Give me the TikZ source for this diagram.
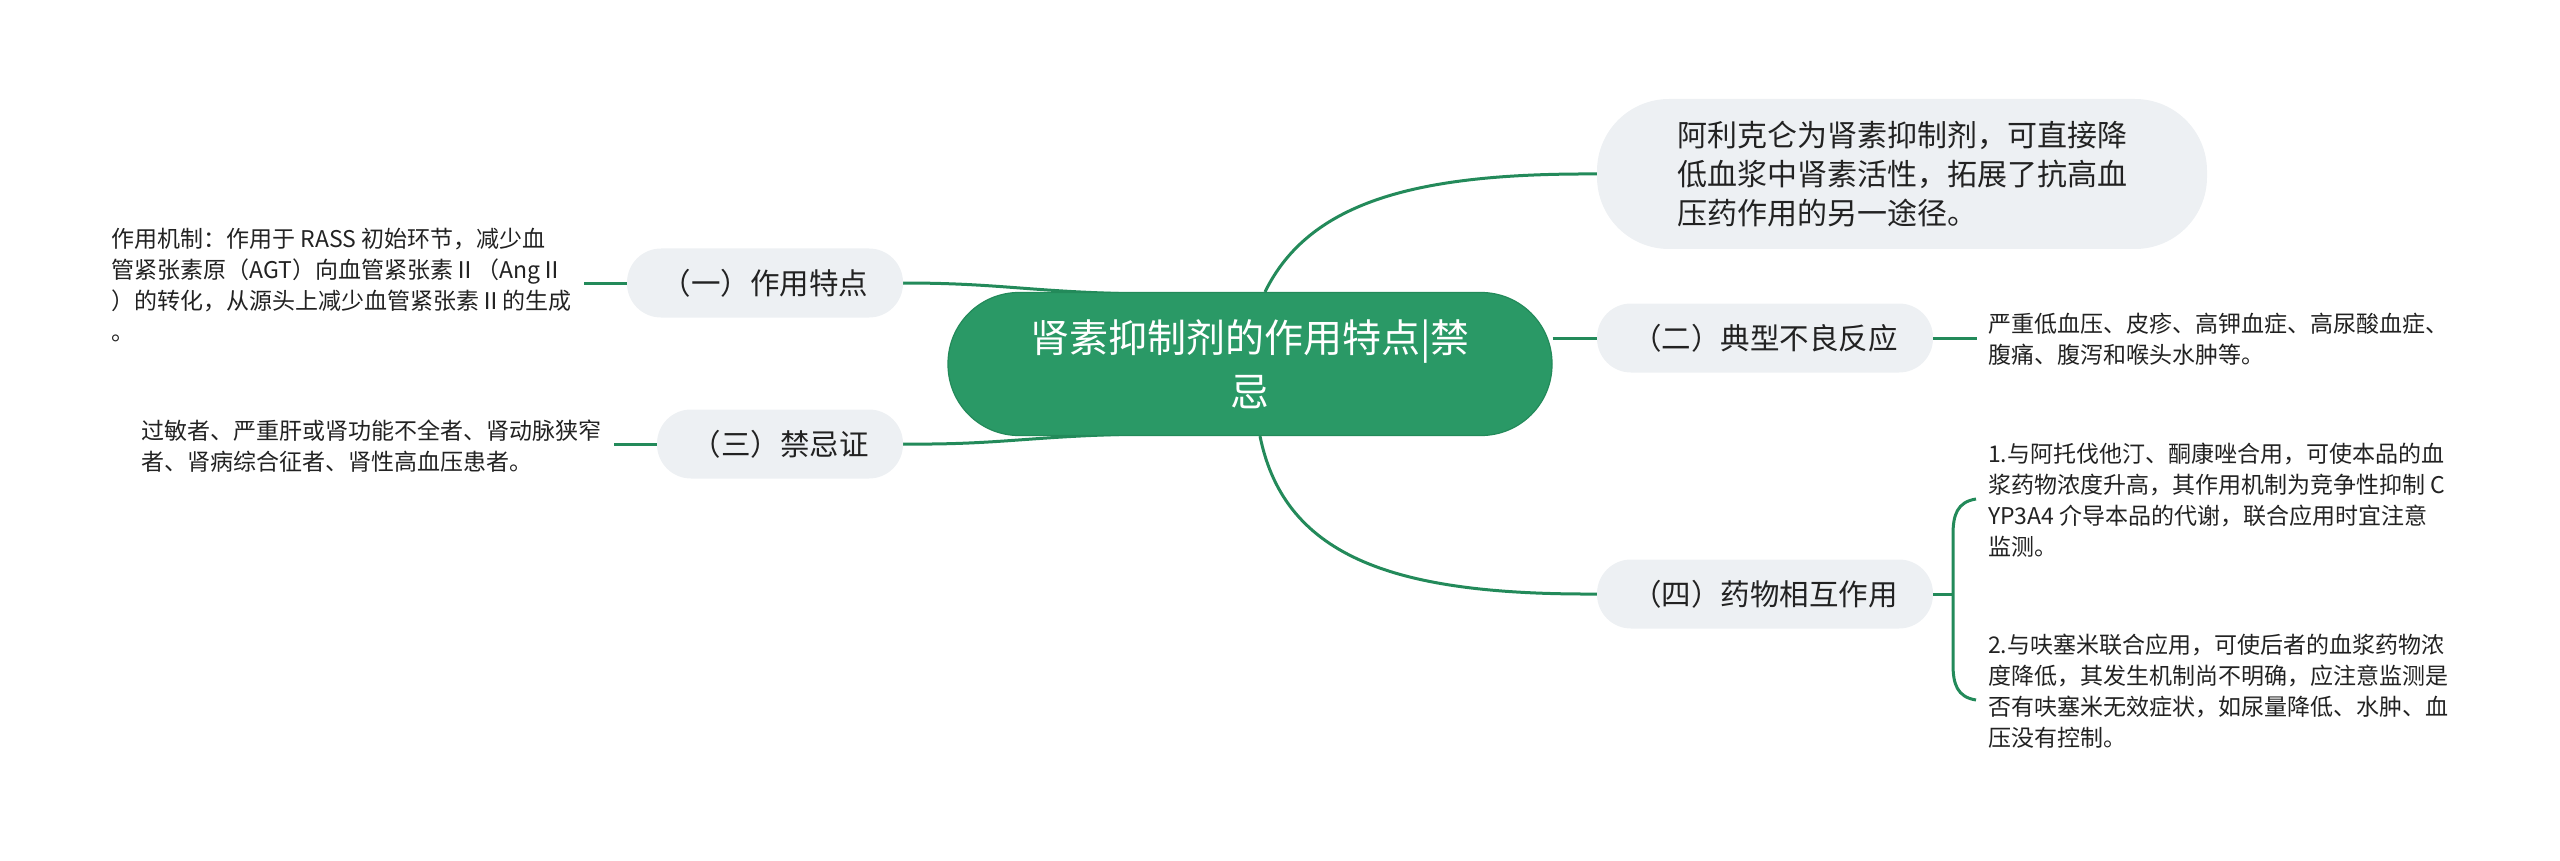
\documentclass[tikz,border=0pt]{standalone}
\usepackage{fontspec}
\setmainfont{Noto Sans CJK SC}
\usetikzlibrary{backgrounds}
\definecolor{maingreen}{RGB}{42,153,102}
\definecolor{linegreen}{RGB}{35,138,90}
\definecolor{nodegray}{RGB}{237,240,243}
\definecolor{txt}{RGB}{34,34,34}
\begin{document}
\begin{tikzpicture}[x=1pt,y=-1pt,
  central/.style={fill=maingreen, draw=linegreen, line width=1.2pt, rounded corners=71pt,
    minimum width=604pt, minimum height=143pt, text=white, align=center,
    font=\fontsize{39}{54}\selectfont, inner sep=0pt},
  topic/.style={fill=nodegray, rounded corners=34pt, minimum height=69pt, text=txt,
    font=\fontsize{29.5}{38}\selectfont, inner sep=0pt},
  leaf/.style={text=txt, align=left, font=\fontsize{23}{31}\selectfont, inner sep=0pt},
  branch/.style={draw=linegreen, line width=3pt},
]
\useasboundingbox (0,0) rectangle (2560,861);

% central topic
\node[central] (c) at (1250,364) {肾素抑制剂的作用特点|禁\\忌};

% main topics
\node[topic, minimum width=610pt, minimum height=150pt, rounded corners=72pt, align=left,
      font=\fontsize{30}{39}\selectfont] (a) at (1902,174)
  {阿利克仑为肾素抑制剂，可直接降\\低血浆中肾素活性，拓展了抗高血\\压药作用的另一途径。\hspace*{16pt}};
\node[topic, minimum width=336pt] (b2) at (1765,338) {（二）典型不良反应};
\node[topic, minimum width=336pt] (b4) at (1765,594) {（四）药物相互作用};
\node[topic, minimum width=276pt] (b1) at (765,283) {（一）作用特点};
\node[topic, minimum width=246pt] (b3) at (780,444) {（三）禁忌证};

% leaves
\node[leaf, anchor=east] (l1) at (572,285)
  {作用机制：作用于 RASS 初始环节，减少血\\管紧张素原（AGT）向血管紧张素Ⅱ（AngⅡ\\）的转化，从源头上减少血管紧张素Ⅱ的生成\\。};
\node[leaf, anchor=east] (l3) at (602,446)
  {过敏者、严重肝或肾功能不全者、肾动脉狭窄\\者、肾病综合征者、肾性高血压患者。};
\node[leaf, anchor=west] (r2) at (1988,339)
  {严重低血压、皮疹、高钾血症、高尿酸血症、\\腹痛、腹泻和喉头水肿等。};
\node[leaf, anchor=west] (r4a) at (1988,500)
  {1.与阿托伐他汀、酮康唑合用，可使本品的血\\浆药物浓度升高，其作用机制为竞争性抑制 C\\YP3A4 介导本品的代谢，联合应用时宜注意\\监测。};
\node[leaf, anchor=west] (r4b) at (1988,691)
  {2.与呋塞米联合应用，可使后者的血浆药物浓\\度降低，其发生机制尚不明确，应注意监测是\\否有呋塞米无效症状，如尿量降低、水肿、血\\压没有控制。};

% connector ends
\coordinate (cl1) at (584,283);
\coordinate (cl3) at (614,444);
\coordinate (cr2) at (1977,338);
\coordinate (bm) at (1953,594);
\coordinate (bt) at (1976,499);
\coordinate (bb) at (1976,700);

\begin{pgfonlayer}{background}
  \draw[branch] ([xshift=15pt]c.north) .. controls (1310,200) and (1420,173) .. (a.west);
  \draw[branch] ([xshift=10pt]c.south) .. controls (1285,560) and (1400,595) .. (b4.west);
  \draw[branch] (b2.west -| c.east) -- (b2.west);
  \draw[branch] (b1.east) .. controls (1000,283) and (1030,292) .. (1140,294);
  \draw[branch] (b3.east) .. controls (1000,445) and (1030,436) .. (1140,434);
\end{pgfonlayer}

\draw[branch] (b1.west) -- (cl1);
\draw[branch] (b3.west) -- (cl3);
\draw[branch] (b2.east) -- (cr2);
\draw[branch] (b4.east) -- (bm);
\draw[branch] (bt) .. controls (1957,502) and (1953,515) .. (1953,535) -- (1953,664)
  .. controls (1953,684) and (1957,697) .. (bb);
\end{tikzpicture}
\end{document}
